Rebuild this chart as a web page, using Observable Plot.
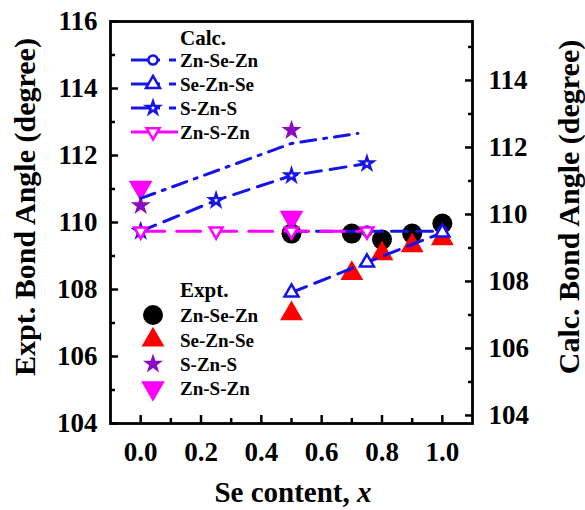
<!DOCTYPE html>
<html><head><meta charset="utf-8">
<script src="https://cdn.jsdelivr.net/npm/d3@7"></script>
<script src="https://cdn.jsdelivr.net/npm/@observablehq/plot@0.6"></script>
<style>
body{margin:0;background:#fff}
#chart svg text{font-family:"Liberation Serif","Times New Roman",serif !important;font-weight:bold !important;}
</style>
</head><body><div id="chart"></div>
<script>
// ---- Data ----
const seriesNames = ["Zn-Se-Zn", "Se-Zn-Se", "S-Zn-S", "Zn-S-Zn"];
// Experimental (left axis)
const exptZnSeZnX = [0.5, 0.7, 0.8, 0.9, 1.0];
const exptZnSeZnY = [109.67, 109.67, 109.49, 109.67, 109.97];
const exptSeZnSeX = [0.5, 0.7, 0.8, 0.9, 1.0];
const exptSeZnSeY = [107.28, 108.48, 109.07, 109.31, 109.52];
const exptSZnSX = [0, 0.5];
const exptSZnSY = [110.51, 112.75];
const exptZnSZnX = [0, 0.5];
const exptZnSZnY = [111.04, 110.15];
// Calculated (right axis)
const calcZnSeZnX = [0.5, 0.75, 1.0];
const calcZnSeZnY = [109.5, 109.5, 109.5];
const calcSeZnSeX = [0.5, 0.75, 1.0];
const calcSeZnSeY = [107.67, 108.57, 109.46];
const calcSZnSX = [0, 0.25, 0.5, 0.75];
const calcSZnSY = [109.5, 110.42, 111.16, 111.52];
const calcZnSZnX = [0, 0.25, 0.5, 0.75];
const calcZnSZnY = [109.5, 109.5, 109.5, 109.5];
const calcDashDotX = [0, 0.5, 0.72];
const calcDashDotY = [110.48, 112.12, 112.42];
// Axes
const xTicks = [0, 0.2, 0.4, 0.6, 0.8, 1.0];
const xMinor = [0.1, 0.3, 0.5, 0.7, 0.9];
const leftTicks = [104, 106, 108, 110, 112, 114, 116];
const leftMinor = [105, 107, 109, 111, 113, 115];
const rightTicks = [104, 106, 108, 110, 112, 114];
const rightMinor = [105, 107, 109, 111, 113, 115];
const rightAxisMin = 103.76; // right axis value at bottom of frame
const leftAxisMin = 104;

// ---- Build ----
const off = leftAxisMin - rightAxisMin;
const rows = (xs, ys, shift = 0) => xs.map((x, i) => ({x, y: ys[i] + shift}));
const FONT = "Liberation Serif, Times New Roman, serif";
const BLUE = "#1414e8", MAG = "#ff00ff", RED = "#ff0000", PURPLE = "#8a0ac4";
const triangleDown = {
  draw(context, size) {
    const s3 = Math.sqrt(3);
    const y = Math.sqrt(size / (s3 * 3));
    context.moveTo(0, 2 * y);
    context.lineTo(-s3 * y, -y);
    context.lineTo(s3 * y, -y);
    context.closePath();
  }
};

const eZnSeZn = rows(exptZnSeZnX, exptZnSeZnY), eSeZnSe = rows(exptSeZnSeX, exptSeZnSeY);
const eSZnS = rows(exptSZnSX, exptSZnSY), eZnSZn = rows(exptZnSZnX, exptZnSZnY);
const cZnSeZn = rows(calcZnSeZnX, calcZnSeZnY, off), cSeZnSe = rows(calcSeZnSeX, calcSeZnSeY, off);
const cSZnS = rows(calcSZnSX, calcSZnSY, off), cZnSZn = rows(calcZnSZnX, calcZnSZnY, off);
const cDD = rows(calcDashDotX, calcDashDotY, off);

const blank = () => "";
const ax = {fontFamily: FONT, fontWeight: "bold", strokeWidth: 2.5, label: null};
const plot = Plot.plot({
  width: 585, height: 510,
  marginLeft: 110, marginRight: 113, marginTop: 21, marginBottom: 87,
  style: {fontFamily: FONT, fontWeight: "bold", background: "white", color: "black"},
  x: {domain: [-0.1, 1.1]},
  y: {domain: [104, 116]},
  marks: [
    Plot.axisX({...ax, ticks: xTicks, tickSize: -8, tickPadding: 26, tickFormat: d => d.toFixed(1), fontSize: 27}),
    Plot.axisX({...ax, ticks: xMinor, tickSize: -5, tickFormat: blank}),
    Plot.axisY({...ax, anchor: "left", ticks: leftTicks, tickSize: -8, tickPadding: 21, fontSize: 27}),
    Plot.axisY({...ax, anchor: "left", ticks: leftMinor, tickSize: -5, tickFormat: blank}),
    Plot.axisY({...ax, anchor: "right", ticks: rightTicks.map(r => r + off), tickFormat: d => String(Math.round(d - off)), tickSize: -8, tickPadding: 24, fontSize: 27}),
    Plot.axisY({...ax, anchor: "right", ticks: rightMinor.map(r => r + off), tickSize: -5, tickFormat: blank}),
    // experimental markers
    Plot.dot(eZnSeZn, {x: "x", y: "y", r: 10, fill: "black", symbol: "circle"}),
    Plot.dot(eSeZnSe, {x: "x", y: "y", r: 8.5, fill: RED, symbol: "triangle"}),
    Plot.dot(eZnSZn, {x: "x", y: "y", r: 8.8, fill: MAG, symbol: triangleDown}),
    Plot.dot(eSZnS, {x: "x", y: "y", r: 6.3, fill: PURPLE, symbol: "star"}),
    // calculated lines
    Plot.line(cDD, {x: "x", y: "y", stroke: BLUE, strokeWidth: 3, strokeDasharray: "15,8,3,8"}),
    Plot.line(cSZnS, {x: "x", y: "y", stroke: BLUE, strokeWidth: 3, strokeDasharray: "16,9"}),
    Plot.line(cZnSeZn, {x: "x", y: "y", stroke: BLUE, strokeWidth: 3, strokeDasharray: "16,9"}),
    Plot.line(cSeZnSe, {x: "x", y: "y", stroke: BLUE, strokeWidth: 3, strokeDasharray: "16,9"}),
    Plot.line(cZnSZn, {x: "x", y: "y", stroke: MAG, strokeWidth: 3, strokeDasharray: "24,12"}),
    // calculated markers
    Plot.dot(cZnSeZn, {x: "x", y: "y", r: 4.6, stroke: BLUE, fill: "white", strokeWidth: 2.5, symbol: "circle"}),
    Plot.dot(cSeZnSe, {x: "x", y: "y", r: 5.2, stroke: BLUE, fill: "white", strokeWidth: 2.5, symbol: "triangle"}),
    Plot.dot(cSZnS, {x: "x", y: "y", r: 3.9, stroke: BLUE, fill: "white", strokeWidth: 2.5, symbol: "star"}),
    Plot.dot(cZnSZn, {x: "x", y: "y", r: 4.8, stroke: MAG, fill: "white", strokeWidth: 2.5, symbol: triangleDown}),
    Plot.frame({stroke: "black", strokeWidth: 2.8})
  ]
});
document.getElementById("chart").appendChild(plot);

// ---- Titles & legends ----
const svg = d3.select(plot);
svg.selectAll("text").attr("font-family", FONT).attr("font-weight", "bold");
const g = svg.append("g").attr("font-family", FONT).attr("font-weight", "bold").attr("fill", "black").attr("text-anchor", "start");
g.append("text").attr("transform", "translate(24,207) rotate(-90)").attr("text-anchor", "middle")
  .attr("dominant-baseline", "central").attr("font-size", 30).text("Expt. Bond Angle (degree)");
g.append("text").attr("transform", "translate(568,207) rotate(-90)").attr("text-anchor", "middle")
  .attr("dominant-baseline", "central").attr("font-size", 30).text("Calc. Bond Angle (degree)");
const xl = g.append("text").attr("x", 293).attr("y", 502).attr("text-anchor", "middle").attr("font-size", 29);
xl.append("tspan").text("Se content, ");
xl.append("tspan").attr("font-style", "italic").text("x");

// Calc legend
const calcLeg = [
  {name: seriesNames[0], color: BLUE, sym: d3.symbolCircle, r: 4.6, dashed: true},
  {name: seriesNames[1], color: BLUE, sym: d3.symbolTriangle, r: 5.2, dashed: true},
  {name: seriesNames[2], color: BLUE, sym: d3.symbolStar, r: 3.9, dashed: true},
  {name: seriesNames[3], color: MAG, sym: triangleDown, r: 4.8, dashed: false}
];
g.append("text").attr("x", 180).attr("y", 45).attr("text-anchor", "start").attr("font-size", 21).text("Calc.");
const calcY = [60, 84, 108, 132];
calcLeg.forEach((d, i) => {
  const y = calcY[i];
  if (d.dashed) {
    g.append("line").attr("x1", 131).attr("x2", 160).attr("y1", y).attr("y2", y).attr("stroke", d.color).attr("stroke-width", 3);
    g.append("line").attr("x1", 169).attr("x2", 176).attr("y1", y).attr("y2", y).attr("stroke", d.color).attr("stroke-width", 3);
  } else {
    g.append("line").attr("x1", 131).attr("x2", 178).attr("y1", y).attr("y2", y).attr("stroke", d.color).attr("stroke-width", 3);
  }
  g.append("path").attr("transform", `translate(153,${y})`).attr("d", d3.symbol(d.sym, Math.PI * d.r * d.r)())
    .attr("fill", "white").attr("stroke", d.color).attr("stroke-width", 2.5);
  g.append("text").attr("x", 180).attr("y", y).attr("text-anchor", "start").attr("dominant-baseline", "central").attr("font-size", 19).text(d.name);
});
// Expt legend
const exptLeg = [
  {name: seriesNames[0], color: "black", sym: d3.symbolCircle, r: 10},
  {name: seriesNames[1], color: RED, sym: d3.symbolTriangle, r: 8.5},
  {name: seriesNames[2], color: PURPLE, sym: d3.symbolStar, r: 6.3},
  {name: seriesNames[3], color: MAG, sym: triangleDown, r: 8.8}
];
g.append("text").attr("x", 180).attr("y", 297).attr("text-anchor", "start").attr("font-size", 21).text("Expt.");
const exptY = [315, 340, 364, 388];
exptLeg.forEach((d, i) => {
  const y = exptY[i];
  g.append("path").attr("transform", `translate(153,${y})`).attr("d", d3.symbol(d.sym, Math.PI * d.r * d.r)())
    .attr("fill", d.color);
  g.append("text").attr("x", 180).attr("y", y).attr("text-anchor", "start").attr("dominant-baseline", "central").attr("font-size", 19).text(d.name);
});
</script></body></html>
